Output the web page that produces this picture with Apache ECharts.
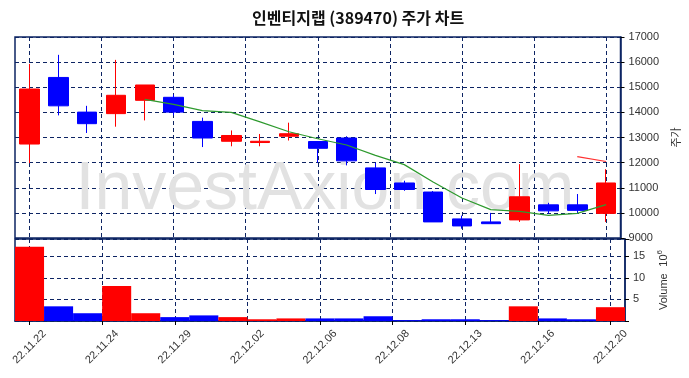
<!DOCTYPE html>
<html>
<head>
<meta charset="utf-8">
<script src="https://cdn.jsdelivr.net/npm/echarts@6/dist/echarts.min.js"></script>
<style>
  html, body { margin: 0; padding: 0; background: #fff; }
  #chart { width: 689px; height: 378px; }
</style>
</head>
<body>
<div id="chart"></div>
<script>
// trading days 22.11.22 .. 22.12.20
const dates = ['22.11.22', '22.11.23', '22.11.24', '22.11.25', '22.11.28', '22.11.29', '22.11.30',
  '22.12.01', '22.12.02', '22.12.05', '22.12.06', '22.12.07', '22.12.08', '22.12.09', '22.12.12',
  '22.12.13', '22.12.14', '22.12.15', '22.12.16', '22.12.19', '22.12.20'];
const opens  = [12740, 15390, 14010, 13950, 14480, 14600, 13640, 12850, 12800, 13050, 12840,
  12980, 11790, 11190, 10830, 9760, 9640, 9720, 10320, 10320, 9980];
const closes = [14930, 14260, 13550, 14680, 15090, 14010, 12980, 13080, 12850, 13150, 12570,
  12070, 10930, 10930, 9640, 9480, 9570, 10640, 10080, 10100, 11190];
const lows   = [11980, 13880, 13180, 13430, 13680, 13880, 12620, 12650, 12650, 12880, 12000,
  11890, 10750, 10880, 9640, 9370, 9570, 9640, 9970, 9970, 9640];
const highs  = [15930, 16290, 14260, 16090, 15090, 14710, 13790, 13280, 13140, 13590, 12840,
  13050, 12000, 11280, 10870, 9890, 10000, 11940, 10400, 10750, 11740];
// volume in 10^6 shares
const volumes = [17.2, 3.4, 1.8, 8.1, 1.8, 0.9, 1.3, 0.9, 0.4, 0.6, 0.6,
  0.6, 1.1, 0.2, 0.4, 0.4, 0.2, 3.4, 0.6, 0.4, 3.2];
// moving averages
const ma5  = [null, null, null, null, 14520, 14320, 14070, 14000, 13620, 13230, 12950,
  12700, 12290, 11920, 11230, 10590, 10130, 10060, 9900, 9980, 10330];
const ma20 = [null, null, null, null, null, null, null, null, null, null, null,
  null, null, null, null, null, null, null, null, 12240, 12045];

const tickPos = [0, 2.5, 5, 7.5, 10, 12.5, 15, 17.5, 20];
const tickLabels = ['22.11.22', '22.11.24', '22.11.29', '22.12.02', '22.12.06',
  '22.12.08', '22.12.13', '22.12.16', '22.12.20'];
const priceTicks = [9000, 17000, 1000];
const volTicks = [0, 19, 5];

const RED = '#ff0000';
const BLUE = '#0000ff';
const NAVY = '#0d2463';
const X_MIN = -0.5, X_MAX = 20.5;

const candleData = dates.map((d, i) => [i, opens[i], closes[i], lows[i], highs[i]]);
const volData = volumes.map((v, i) => ({
  value: [i, v],
  itemStyle: { color: closes[i] >= opens[i] ? RED : BLUE }
}));
const lineData = arr => arr.map((v, i) => [i, v]).filter(p => p[1] !== null);

const chart = echarts.init(document.getElementById('chart'));

const gridLine = { show: true, lineStyle: { color: NAVY, width: 1, type: [4, 3] } };
const axisText = { color: '#333', fontSize: 11, fontFamily: 'Liberation Sans' };
const rightLine = { show: true, onZero: false, lineStyle: { color: NAVY, width: 1.5 } };

chart.setOption({
  animation: false,
  title: {
    text: '인벤티지랩 (389470) 주가 차트',
    left: 247,
    top: 5,
    textStyle: { fontSize: 16, fontWeight: 'bold', color: '#111', fontFamily: 'Noto Sans CJK KR' }
  },
  graphic: [{
    type: 'text',
    silent: true,
    z: 1,
    style: {
      text: 'InvestAxion.com',
      x: 325, y: 190,
      align: 'center', verticalAlign: 'middle',
      font: '68px "Liberation Sans"',
      fill: '#e2e2e2'
    }
  }],
  grid: [
    { left: 15, right: 64, top: 37, height: 201, show: true, borderColor: NAVY, borderWidth: 1.5 },
    { left: 15, right: 64, top: 239, height: 82, show: true, borderColor: NAVY, borderWidth: 1.5 }
  ],
  xAxis: [
    {
      type: 'value', gridIndex: 0, min: X_MIN, max: X_MAX,
      axisLine: { show: false, onZero: false },
      axisTick: { show: false, customValues: tickPos },
      axisLabel: { show: false, customValues: tickPos },
      splitLine: gridLine
    },
    {
      type: 'value', gridIndex: 1, min: X_MIN, max: X_MAX,
      axisLine: { show: true, onZero: false, lineStyle: { color: NAVY, width: 1.5 } },
      axisTick: { show: true, length: 4, lineStyle: { color: '#000' }, customValues: tickPos },
      axisLabel: Object.assign({
        customValues: tickPos,
        rotate: 45,
        align: 'center',
        verticalAlign: 'middle',
        margin: 26,
        formatter: v => tickLabels[tickPos.indexOf(v)] || ''
      }, axisText),
      splitLine: gridLine
    }
  ],
  yAxis: [
    {
      type: 'value', gridIndex: 0, position: 'right',
      min: priceTicks[0], max: priceTicks[1], interval: priceTicks[2],
      axisLine: rightLine,
      axisTick: { show: true, length: 4, lineStyle: { color: '#000' } },
      axisLabel: Object.assign({ margin: 8, formatter: v => String(v) }, axisText),
      splitLine: gridLine,
      name: '주가', nameLocation: 'middle', nameGap: 46, nameRotate: 90,
      nameTextStyle: { color: '#333', fontSize: 11, fontFamily: 'Noto Sans CJK KR' }
    },
    {
      type: 'value', gridIndex: 1, position: 'right',
      min: volTicks[0], max: volTicks[1], interval: volTicks[2],
      axisLine: rightLine,
      axisTick: { show: true, length: 4, lineStyle: { color: '#000' } },
      axisLabel: Object.assign({
        margin: 8,
        formatter: v => (v > 0 && v % 5 === 0) ? String(v) : ''
      }, axisText),
      splitLine: gridLine,
      name: '{a|Volume}  {a|10}{s|6}', nameLocation: 'middle', nameGap: 30, nameRotate: 90,
      nameTextStyle: {
        rich: {
          a: { color: '#333', fontSize: 11, fontFamily: 'Liberation Sans' },
          s: { color: '#333', fontSize: 8, fontFamily: 'Liberation Sans', padding: [0, 0, 7, 0] }
        }
      }
    }
  ],
  series: [
    {
      type: 'candlestick', xAxisIndex: 0, yAxisIndex: 0,
      encode: { x: 0, y: [1, 2, 3, 4] },
      data: candleData,
      barWidth: 20,
      itemStyle: {
        color: RED, color0: BLUE,
        borderColor: RED, borderColor0: BLUE, borderWidth: 1
      }
    },
    {
      type: 'line', xAxisIndex: 0, yAxisIndex: 0,
      data: lineData(ma5), symbol: 'none',
      lineStyle: { color: '#2e9a2e', width: 1.2 }
    },
    {
      type: 'line', xAxisIndex: 0, yAxisIndex: 0,
      data: lineData(ma20), symbol: 'none',
      lineStyle: { color: '#ff3030', width: 1.2 }
    },
    {
      type: 'bar', xAxisIndex: 1, yAxisIndex: 1,
      data: volData,
      barWidth: '100%'
    }
  ]
});
</script>
</body>
</html>
